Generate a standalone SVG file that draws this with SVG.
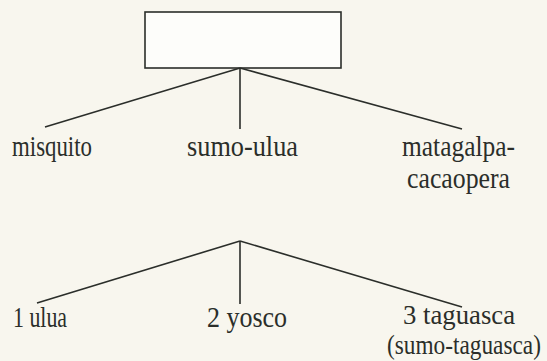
<svg xmlns="http://www.w3.org/2000/svg" width="547" height="361" viewBox="0 0 547 361">
<style>
.t{font-family:"Liberation Serif","Times New Roman",serif;font-size:30px;fill:#2b2e2a}
.s{font-size:27px}
.c{stroke:#2b2e2a;stroke-width:1.6;fill:none}
</style>
<rect width="547" height="361" fill="#f8f6ee"/>
<g id="root"><rect x="145" y="12" width="196" height="56" fill="#fdfdfa" stroke="#2b2e2a" stroke-width="1.6"/></g>
<g id="connectors">
<line class="c" x1="240" y1="68" x2="45" y2="127"/>
<line class="c" x1="240" y1="68" x2="240" y2="129"/>
<line class="c" x1="240" y1="68" x2="462" y2="129"/>
<line class="c" x1="240" y1="241" x2="37" y2="303"/>
<line class="c" x1="240" y1="241" x2="240" y2="304"/>
<line class="c" x1="240" y1="241" x2="462" y2="307"/>
</g>
<g id="misquito"><text class="t" x="12" y="156" textLength="80" lengthAdjust="spacingAndGlyphs">misquito</text></g>
<g id="sumo-ulua"><text class="t" x="187" y="156" textLength="111" lengthAdjust="spacingAndGlyphs">sumo-ulua</text></g>
<g id="matagalpa"><text class="t" x="402" y="156" textLength="113" lengthAdjust="spacingAndGlyphs">matagalpa-</text><text class="t" x="407" y="188" textLength="103" lengthAdjust="spacingAndGlyphs">cacaopera</text></g>
<g id="ulua"><text class="t" x="13" y="327" textLength="54" lengthAdjust="spacingAndGlyphs">1 ulua</text></g>
<g id="yosco"><text class="t" x="207" y="327" textLength="80" lengthAdjust="spacingAndGlyphs">2 yosco</text></g>
<g id="taguasca"><text class="t s" x="403" y="324" textLength="112" lengthAdjust="spacingAndGlyphs">3 taguasca</text><text class="t s" transform="translate(387,354) scale(0.863,1)" x="0" y="0">(sumo-taguasca)</text></g>
</svg>
